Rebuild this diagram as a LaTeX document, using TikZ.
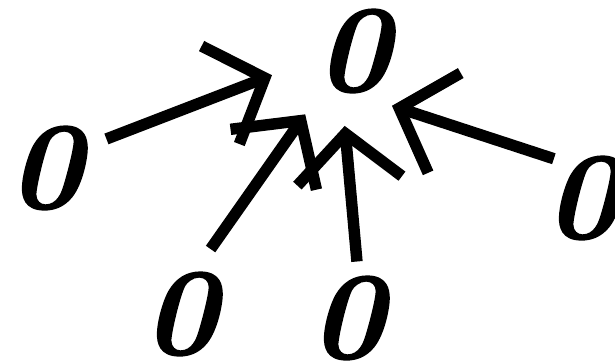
\documentclass[tikz,border=0pt]{standalone}
\usepackage{fontspec}
\newfontfamily\hand{lmroman10-bolditalic.otf}[FakeBold=1.5]
\usepackage{tikz}
\usetikzlibrary{arrows.meta}

\begin{document}
\begin{tikzpicture}[every node/.style={inner sep=0pt, font=\fontsize{70}{70}\selectfont\hand}, into/.style={line width=6.5pt, -{Straight Barb[length=0.95cm, width=2.1cm]}}]
\useasboundingbox (0,0) rectangle (12.3,-7.28);
\node (hub) at (7.06,-1.02) {0};
\node (west) at (0.9,-3.36) {0};
\node (southwest) at (3.6,-6.28) {0};
\node (south) at (6.94,-6.36) {0};
\node (east) at (11.64,-3.96) {0};
\draw[into, shorten <=0.53cm, shorten >=0.95cm] (west.28)--(hub.191);
\draw[into, shorten <=0.56cm, shorten >=0.52cm] (southwest.71)--(hub.232);
\draw[into, shorten <=0.29cm, shorten >=0.66cm] (south.75)--(hub.255);
\draw[into, shorten <=-0.18cm, shorten >=0.82cm] (east.north west)--(hub.south);
\end{tikzpicture}
\end{document}
